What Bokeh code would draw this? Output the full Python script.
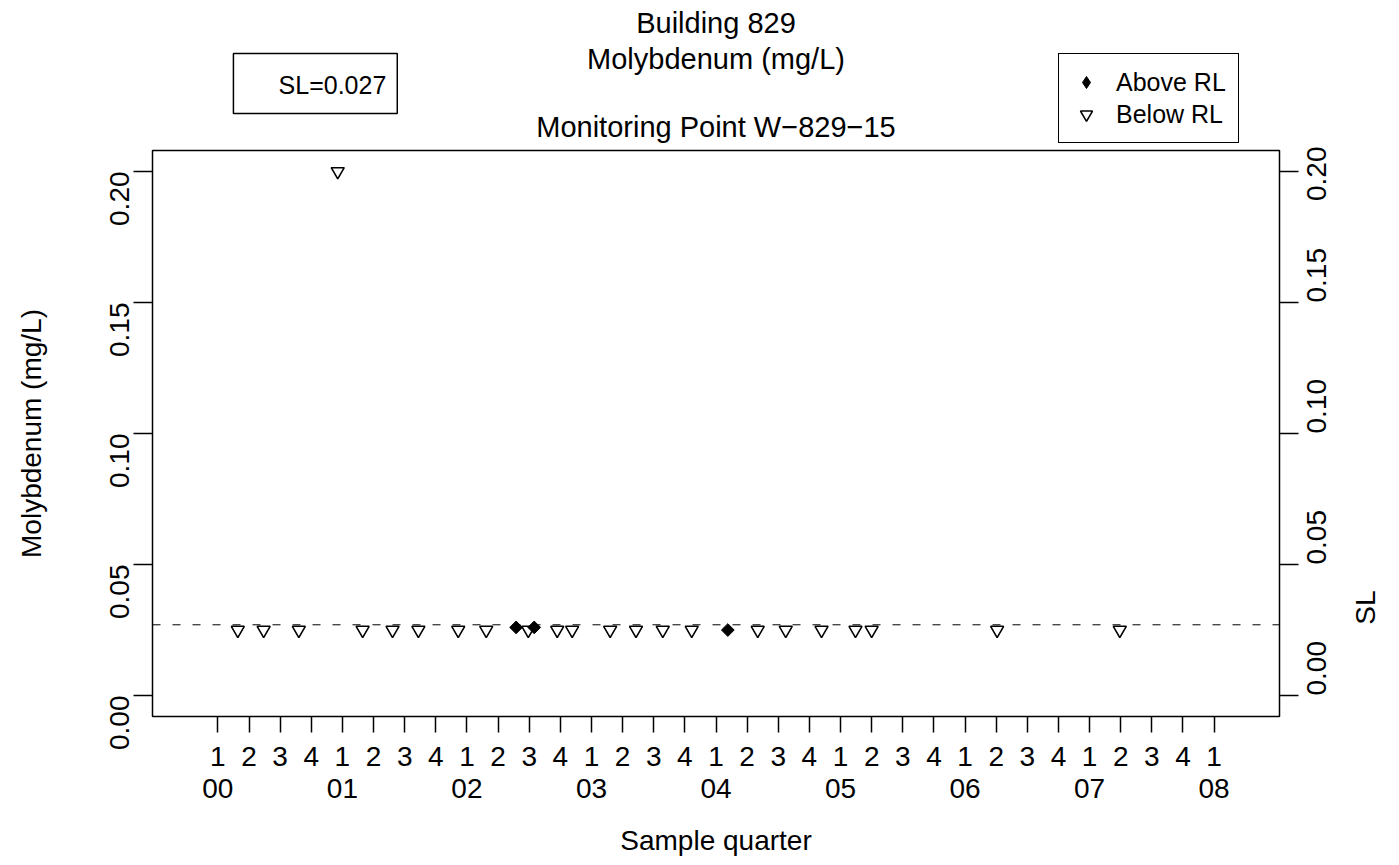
from math import pi
from bokeh.plotting import figure
from bokeh.layouts import column
from bokeh.models import (FixedTicker, LinearAxis, Span, Label, BoxAnnotation,
                          Legend, LegendItem, ColumnDataSource, Range1d,
                          NumeralTickFormatter, CustomJSTickFormatter)
from bokeh.embed import file_html
from bokeh.resources import INLINE

# ---------------- data (x = quarters since 2000 Q1) ----------------
above_q = [9.58, 10.16, 16.38]
above_val = [0.026, 0.026, 0.025]
below_q = [0.64, 1.47, 2.60, 3.85, 4.65, 5.61, 6.44, 7.72, 8.62, 9.97, 10.90, 11.38,
           12.60, 13.43, 14.29, 15.22, 17.34, 18.24, 19.39, 20.48, 21.00, 25.03, 28.97]
below_val = [0.025, 0.025, 0.025, 0.200, 0.025, 0.025, 0.025, 0.025, 0.025, 0.025, 0.025, 0.025,
             0.025, 0.025, 0.025, 0.025, 0.025, 0.025, 0.025, 0.025, 0.025, 0.025, 0.025]
sl_value = 0.027
quarter_ticks = list(range(33))
quarter_labels = ["1", "2", "3", "4"] * 8 + ["1"]
year_ticks = [0, 4, 8, 12, 16, 20, 24, 28, 32]
year_labels = ["00", "01", "02", "03", "04", "05", "06", "07", "08"]
y_ticks = [0.0, 0.05, 0.10, 0.15, 0.20]
titles = ["Building 829", "Molybdenum (mg/L)", "Monitoring Point W\u2212829\u221215"]
legend_labels = ["Above RL", "Below RL"]

FONT = "Liberation Sans"
W, H = 1399, 865
TOP_H = 146                      # height of the heading strip
FL, FR, FT, FB = 152, 1280, 150, 716   # frame edges on page
X0, X1 = -2.1, 34.1
Y0, Y1 = -0.008, 0.208

src_b = ColumnDataSource(dict(x=below_q, y=below_val))
src_a = ColumnDataSource(dict(x=above_q, y=above_val))

# ---------------- heading strip (titles, SL box, legend) ----------------
# its frame is aligned with the main frame (x 152..1280), so data units = page px
top = figure(width=W, height=TOP_H, output_backend="svg", toolbar_location=None,
             x_range=Range1d(FL, FR), y_range=Range1d(TOP_H, 0),
             min_border=0, x_axis_location=None, y_axis_location=None)
top.grid.visible = False
top.outline_line_color = None
top.background_fill_color = "white"
top.border_fill_color = "white"

for txt, py in zip(titles, [22, 58, 126]):
    top.add_layout(Label(x=716, y=py, text=txt, text_align="center",
                         text_baseline="middle", text_font=FONT, text_font_size="29px",
                         text_color="black"))

top.add_layout(BoxAnnotation(left=233, right=397, top=53, bottom=113,
                             fill_color="white", fill_alpha=1, line_color="black",
                             line_width=1.5, line_alpha=1))
top.add_layout(Label(x=386, y=84, text=f"SL={sl_value}", text_align="right",
                     text_baseline="middle", text_font=FONT, text_font_size="25px",
                     text_color="black"))

# legend keys (same data; falls outside this strip's range, so only the key shows)
ka = top.scatter("x", "y", source=src_a, marker="diamond", size=10,
                 fill_color="black", line_color="black")
kb = top.scatter("x", "y", source=src_b, marker="inverted_triangle", size=13,
                 fill_color="white", line_color="black", line_width=1.6)
leg = Legend(items=[LegendItem(label=legend_labels[0], renderers=[ka]),
                    LegendItem(label=legend_labels[1], renderers=[kb])],
             location=(1058 - FL, TOP_H - 143), orientation="vertical",
             border_line_color="black", border_line_width=1.5, border_line_alpha=1,
             background_fill_color="white", background_fill_alpha=1,
             padding=12, spacing=0, margin=0, glyph_width=30, glyph_height=32,
             label_standoff=15, label_text_font=FONT, label_text_font_size="25px",
             label_text_color="black")
top.add_layout(leg, "center")

# ---------------- main plot ----------------
MH = H - TOP_H
p = figure(width=W, height=MH, output_backend="svg", toolbar_location=None,
           x_range=Range1d(X0, X1), y_range=Range1d(Y0, Y1),
           min_border_left=FL, min_border_right=W - FR,
           min_border_top=FT - TOP_H, min_border_bottom=MH - (FB - TOP_H),
           x_axis_location=None, y_axis_location=None)
p.grid.visible = False
p.outline_line_color = "black"
p.outline_line_width = 1.5
p.background_fill_color = "white"
p.border_fill_color = "white"


def style_axis(ax, size="28px"):
    ax.major_label_text_font = FONT
    ax.major_label_text_font_size = size
    ax.major_label_text_color = "black"
    ax.axis_label_text_font = FONT
    ax.axis_label_text_font_size = size
    ax.axis_label_text_font_style = "normal"
    ax.axis_label_text_color = "black"
    ax.axis_line_color = None
    ax.major_tick_line_color = "black"
    ax.major_tick_line_width = 1.5
    ax.major_tick_in = 0
    ax.minor_tick_line_color = None


# bottom axes
xq = LinearAxis(ticker=FixedTicker(ticks=quarter_ticks),
                major_label_overrides={t: l for t, l in zip(quarter_ticks, quarter_labels)})
style_axis(xq)
xq.major_tick_out = 16
xq.major_label_standoff = 14
p.add_layout(xq, "below")

xy = LinearAxis(ticker=FixedTicker(ticks=year_ticks),
                major_label_overrides={t: l for t, l in zip(year_ticks, year_labels)},
                axis_label="Sample quarter")
style_axis(xy)
xy.major_tick_line_color = None
xy.major_tick_out = 0
xy.major_label_standoff = 10
xy.axis_label_standoff = 24
p.add_layout(xy, "below")

# left axis
yl = LinearAxis(ticker=FixedTicker(ticks=y_ticks), formatter=NumeralTickFormatter(format="0.00"),
                axis_label="Molybdenum (mg/L)")
style_axis(yl)
yl.major_tick_out = 19
yl.major_label_standoff = 14
yl.major_label_orientation = pi / 2
yl.axis_label_standoff = 51
p.add_layout(yl, "left")

# right axes
yr = LinearAxis(ticker=FixedTicker(ticks=y_ticks), formatter=NumeralTickFormatter(format="0.00"))
style_axis(yr)
yr.major_tick_out = 19
yr.major_label_standoff = 18
yr.major_label_orientation = pi / 2
p.add_layout(yr, "right")

ysl = LinearAxis(ticker=FixedTicker(ticks=[sl_value]),
                 formatter=CustomJSTickFormatter(code="return 'SL'"))
style_axis(ysl)
ysl.major_tick_line_color = None
ysl.major_tick_out = 0
ysl.major_label_standoff = 27
ysl.major_label_orientation = pi / 2
p.add_layout(ysl, "right")

# SL dashed line
p.add_layout(Span(location=sl_value, dimension="width", line_color="black",
                  line_width=1, line_dash="8 12"))

# points
p.scatter("x", "y", source=src_b, marker="inverted_triangle", size=13,
          fill_color="white", line_color="black", line_width=1.6)
p.scatter("x", "y", source=src_a, marker="square", angle=pi / 4, size=9,
          fill_color="black", line_color="black", line_width=1)

layout = column(top, p, spacing=0)
open("out.html", "w").write(file_html(layout, INLINE))
